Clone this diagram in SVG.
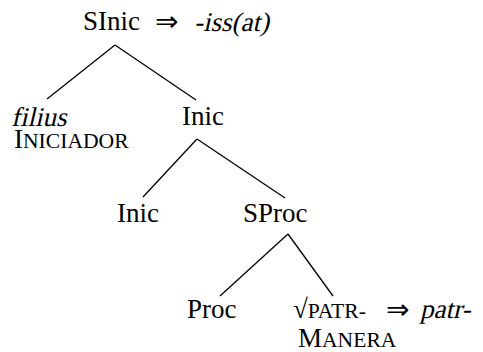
<svg xmlns="http://www.w3.org/2000/svg" width="483" height="352" viewBox="0 0 483 352">
<style>
text{font-family:"Liberation Serif",serif;font-size:27px;fill:#000}
.sc{font-size:21.6px}
.ar{font-family:"DejaVu Sans","Liberation Serif",serif;font-size:28px}
line{stroke:#000;stroke-width:1.3;fill:none}
</style>
<rect width="483" height="352" fill="#fff"/>
<g id="connectors">
<line x1="115" y1="45" x2="47" y2="99"/>
<line x1="115" y1="45" x2="196" y2="100"/>
<line x1="197" y1="139" x2="143" y2="197"/>
<line x1="197" y1="139" x2="285" y2="198"/>
<line x1="288" y1="234" x2="220" y2="296"/>
<line x1="288" y1="234" x2="333" y2="296"/>
</g>
<g id="n-sinic"><text x="83" y="30">SInic</text><text class="ar" x="155" y="31">⇒</text><text transform="translate(194,31) skewX(-13)">-iss(at)</text></g>
<g id="n-filius"><text transform="translate(11,126) skewX(-13)">filius</text><text x="14" y="148">I<tspan class="sc">NICIADOR</tspan></text></g>
<g id="n-inic1"><text x="182" y="125">Inic</text></g>
<g id="n-inic2"><text x="117" y="222">Inic</text></g>
<g id="n-sproc"><text x="243" y="222">SProc</text></g>
<g id="n-proc"><text x="187" y="318">Proc</text></g>
<g id="n-patr"><text x="293" y="318">√<tspan class="sc">PATR-</tspan></text><text class="ar" x="386" y="319">⇒</text><text transform="translate(420,318) skewX(-13)">patr-</text><text x="298" y="347">M<tspan class="sc">ANERA</tspan></text></g>
</svg>
